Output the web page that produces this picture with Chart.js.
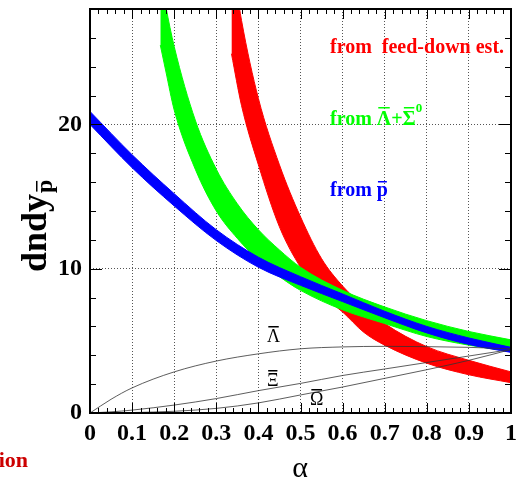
<!DOCTYPE html>
<html>
<head>
<meta charset="utf-8">
<script src="https://cdn.jsdelivr.net/npm/chart.js@4/dist/chart.umd.min.js"></script>
<style>
  body { margin: 0; background: #fff; }
</style>
</head>
<body>
<canvas id="myChart" width="518" height="481"></canvas>
<script>
// alpha grid + band edges
const blueX  = [0, 0.1, 0.2, 0.3, 0.4, 0.5, 0.6, 0.7, 0.8, 0.9, 1.0]
const blueHi = [20.9, 17.9, 15.2, 12.7, 10.8, 9.45, 8.25, 7.05, 6.0, 5.2, 4.55]
const blueLo = [20.0, 17.0, 14.35, 11.95, 10.1, 8.85, 7.72, 6.6, 5.55, 4.75, 4.2]

const greenX  = [0.167, 0.18, 0.2, 0.25, 0.3, 0.35, 0.4, 0.45, 0.5, 0.6, 0.7, 0.8, 0.9, 1.0]
const greenHi = [30.4, 28.2, 25.4, 20.3, 16.9, 14.5, 12.7, 11.3, 10.1, 8.5, 7.35, 6.4, 5.65, 5.07]
const greenLo = [25.5, 23.7, 21.0, 16.9, 14.0, 12.1, 10.6, 9.45, 8.5, 7.15, 6.2, 5.3, 4.7, 4.26]

const redX  = [0.336, 0.36, 0.4, 0.45, 0.5, 0.55, 0.6, 0.65, 0.7, 0.8, 0.9, 1.0]
const redHi = [31.7, 27.2, 21.8, 17.2, 13.6, 10.7, 8.8, 7.4, 6.2, 4.6, 3.65, 2.85]
const redLo = [24.9, 21.3, 17.2, 12.9, 10.1, 8.2, 7.0, 5.6, 4.7, 3.45, 2.65, 2.1]

const thinX  = [0, 0.05, 0.1, 0.2, 0.3, 0.4, 0.5, 0.6, 0.7, 0.8, 0.9, 1.0]
const lambda = [0, 0.95, 1.74, 2.85, 3.6, 4.1, 4.45, 4.58, 4.62, 4.6, 4.55, 4.45]
const xi     = [0, 0.08, 0.2, 0.55, 1.0, 1.55, 2.05, 2.6, 3.05, 3.5, 3.95, 4.4]
const omega  = [0, 0.01, 0.03, 0.12, 0.32, 0.7, 1.25, 1.8, 2.4, 3.0, 3.65, 4.4]

const serif = '"Liberation Serif", "Times New Roman", serif'

const pts = (xs, ys) => xs.map((x, i) => ({x: x, y: ys[i]}))

const thin = (data) => ({
    data: data, borderColor: '#333', borderWidth: 0.8, pointRadius: 0,
    fill: false, cubicInterpolationMode: 'monotone'
})
const bandTop = (data, col) => ({
    data: data, borderColor: col, borderWidth: 1, pointRadius: 0,
    fill: false, cubicInterpolationMode: 'monotone'
})
const bandBot = (data, col) => ({
    data: data, borderColor: col, borderWidth: 1, pointRadius: 0,
    backgroundColor: col, fill: '-1', cubicInterpolationMode: 'monotone'
})

// text with a bar over it
const barText = (ctx, s, x, y, bar) => {
    ctx.fillText(s, x, y)
    const w = ctx.measureText(s).width
    ctx.fillRect(x + w * 0.1, y - bar, w * 0.8, 1.5)
    return w
}

const noPad = s => { s.paddingTop = 0; s.paddingBottom = 0; s.paddingLeft = 0; s.paddingRight = 0 }

const decor = {
    id: 'decor',
    afterDraw(chart) {
        const ctx = chart.ctx
        const xs = chart.scales.x, ys = chart.scales.y
        const {left, right, top, bottom} = chart.chartArea
        ctx.save()
        ctx.strokeStyle = '#000'
        ctx.lineWidth = 1
        ctx.beginPath()
        for (let i = 0; i <= 50; i++) {
            const px = Math.round(xs.getPixelForValue(i / 50)) + 0.5
            const len = i % 5 === 0 ? 10 : 5
            ctx.moveTo(px, bottom); ctx.lineTo(px, bottom - len)
            ctx.moveTo(px, top); ctx.lineTo(px, top + len)
        }
        for (let v = 0; v <= 28; v += 2) {
            const py = Math.round(ys.getPixelForValue(v)) + 0.5
            const len = v % 10 === 0 ? 12 : 6
            ctx.moveTo(left, py); ctx.lineTo(left + len, py)
            ctx.moveTo(right, py); ctx.lineTo(right - len, py)
        }
        ctx.stroke()
        ctx.lineWidth = 2
        ctx.strokeRect(left, top, right - left, bottom - top)

        // labels inside the frame
        ctx.textAlign = 'left'
        ctx.textBaseline = 'alphabetic'
        ctx.font = 'bold 20px ' + serif
        ctx.fillStyle = '#ff0000'
        ctx.fillText('from  feed-down est.', 330, 53)

        ctx.fillStyle = '#00ff00'
        let x = 330
        ctx.fillText('from ', x, 125)
        x += ctx.measureText('from ').width
        x += barText(ctx, '\u039B', x, 125, 18)
        ctx.fillText('+', x, 125)
        x += ctx.measureText('+').width
        x += barText(ctx, '\u03A3', x, 125, 18)
        ctx.font = 'bold 13px ' + serif
        ctx.fillText('0', x, 112)

        ctx.font = 'bold 20px ' + serif
        ctx.fillStyle = '#0000ff'
        x = 330
        ctx.fillText('from ', x, 196)
        x += ctx.measureText('from ').width
        barText(ctx, 'p', x, 196, 15)

        ctx.fillStyle = '#000'
        ctx.font = '18px ' + serif
        barText(ctx, '\u039B', 267, 342, 16)
        barText(ctx, '\u039E', 267, 386, 16)
        barText(ctx, '\u03A9', 310, 405, 16)

        // axis titles
        ctx.font = '30px ' + serif
        ctx.textAlign = 'center'
        ctx.fillText('\u03B1', 300, 477)

        ctx.save()
        ctx.translate(46, 272)
        ctx.rotate(-Math.PI / 2)
        ctx.textAlign = 'left'
        ctx.font = 'bold 36px ' + serif
        ctx.fillText('dndy', 0, 0)
        const w = ctx.measureText('dndy').width
        ctx.font = 'bold 24px ' + serif
        barText(ctx, 'p', w + 1, 6, 16)
        ctx.restore()

        // clipped caption below the frame
        ctx.fillStyle = '#cc0000'
        ctx.font = 'bold 22px ' + serif
        ctx.textAlign = 'right'
        ctx.fillText('Feed-down correction', 28, 467)
        ctx.restore()
    }
}

const ctx = document.getElementById('myChart').getContext('2d')
const myChart = new Chart(ctx, {
    type: 'line',
    data: {
        datasets: [
            thin(pts(thinX, lambda)),
            thin(pts(thinX, xi)),
            thin(pts(thinX, omega)),
            bandTop(pts(blueX, blueHi), '#0000ff'),
            bandBot(pts(blueX, blueLo), '#0000ff'),
            bandTop(pts(greenX, greenHi), '#00ff00'),
            bandBot(pts(greenX, greenLo), '#00ff00'),
            bandTop(pts(redX, redHi), '#ff0000'),
            bandBot(pts(redX, redLo), '#ff0000')
        ]
    },
    options: {
        responsive: false,
        animation: false,
        devicePixelRatio: 1,
        layout: { padding: { top: 9, right: 7, left: 0, bottom: 0 } },
        plugins: { legend: { display: false }, tooltip: { enabled: false } },
        scales: {
            x: {
                type: 'linear', min: 0, max: 1,
                afterFit: s => { s.height = 68; noPad(s) },
                ticks: {
                    stepSize: 0.1, autoSkip: false, maxRotation: 0, padding: 6,
                    color: '#000', font: { family: serif, size: 24, weight: 'bold' },
                    callback: v => String(Number(v.toFixed(1)))
                },
                grid: {
                    drawTicks: false, lineWidth: 1,
                    color: c => (c.tick && c.tick.value > 0.01 && c.tick.value < 0.99) ? '#555' : 'transparent'
                },
                border: { display: false, dash: [1, 2] }
            },
            y: {
                min: 0, max: 28,
                afterFit: s => { s.width = 90; noPad(s) },
                ticks: {
                    stepSize: 10, padding: 8,
                    color: '#000', font: { family: serif, size: 24, weight: 'bold' },
                    callback: v => v % 10 === 0 ? v : ''
                },
                grid: {
                    drawTicks: false, lineWidth: 1,
                    color: c => (c.tick && (c.tick.value === 10 || c.tick.value === 20)) ? '#555' : 'transparent'
                },
                border: { display: false, dash: [1, 2] }
            }
        }
    },
    plugins: [decor]
})
</script>
</body>
</html>
